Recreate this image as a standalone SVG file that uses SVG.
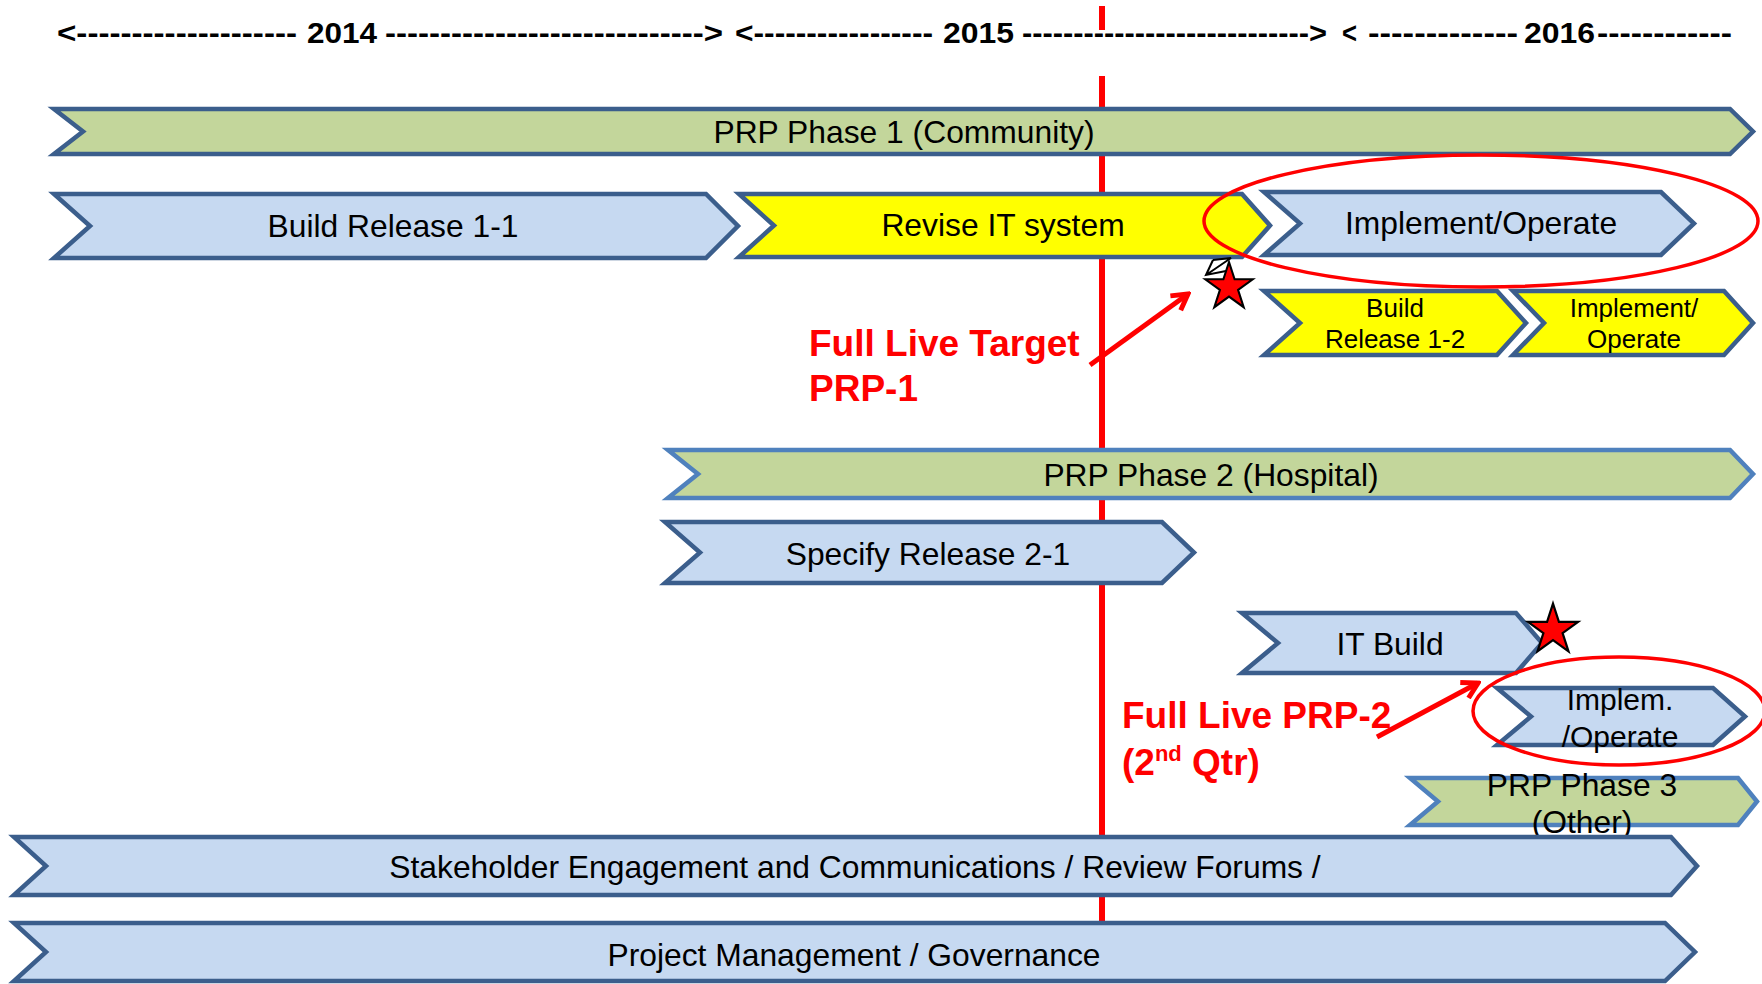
<svg xmlns="http://www.w3.org/2000/svg" width="1762" height="984" viewBox="0 0 1762 984">
<style>
.bar{stroke:#3B5E8C;stroke-width:4.5;stroke-linejoin:miter}
.bar2{stroke:#4F81BD;stroke-width:4.5;stroke-linejoin:miter}
.blue{fill:#C6D9F1}
.green{fill:#C3D69B}
.yellow{fill:#FFFF00}
.lbl{font-family:"Liberation Sans",Arial,sans-serif;font-size:31.8px;fill:#000;text-anchor:middle}
.sm{font-size:26px}
.hd{font-family:"Liberation Sans",Arial,sans-serif;font-size:29px;font-weight:bold;fill:#000}
.red{font-family:"Liberation Sans",Arial,sans-serif;font-size:37px;font-weight:bold;fill:#FF0000}
.ring{fill:none;stroke:#FF0000;stroke-width:3.5}
.star{fill:#FF0000;stroke:#000;stroke-width:2;stroke-linejoin:miter}
.arr{stroke:#FF0000;stroke-width:5;fill:none}
</style>
<defs>
<path id="starShape" d="M0,-24 L5.39,-7.42 L22.83,-7.42 L8.72,2.83 L14.11,19.42 L0,9.17 L-14.11,19.42 L-8.72,2.83 L-22.83,-7.42 L-5.39,-7.42 Z"/>
<marker id="vhead" viewBox="0 0 20 20" refX="17" refY="10" markerWidth="22" markerHeight="22" markerUnits="userSpaceOnUse" orient="auto">
<path d="M3,2 L17,10 L3,18" fill="none" stroke="#FF0000" stroke-width="4.5"/>
</marker>
</defs>
<rect x="0" y="0" width="1762" height="984" fill="#FFFFFF"/>

<g id="timeline-heading">
<text class="hd" x="57" y="43" textLength="240" lengthAdjust="spacingAndGlyphs">&lt;--------------------</text>
<text class="hd" x="307" y="43" textLength="70" lengthAdjust="spacingAndGlyphs">2014</text>
<text class="hd" x="385" y="43" textLength="338" lengthAdjust="spacingAndGlyphs">-----------------------------&gt;</text>
<text class="hd" x="735" y="43" textLength="198" lengthAdjust="spacingAndGlyphs">&lt;-----------------</text>
<text class="hd" x="943" y="43" textLength="71" lengthAdjust="spacingAndGlyphs">2015</text>
<text class="hd" x="1022" y="43" textLength="305" lengthAdjust="spacingAndGlyphs">----------------------------&gt;</text>
<text class="hd" x="1342" y="43" textLength="15" lengthAdjust="spacingAndGlyphs">&lt;</text>
<text class="hd" x="1368" y="43" textLength="150" lengthAdjust="spacingAndGlyphs">-------------</text>
<text class="hd" x="1524" y="43" textLength="71" lengthAdjust="spacingAndGlyphs">2016</text>
<text class="hd" x="1597" y="43" textLength="135" lengthAdjust="spacingAndGlyphs">------------</text>
</g>

<g id="today-line">
<line x1="1102" y1="6" x2="1102" y2="30" stroke="#FF0000" stroke-width="6"/>
<line x1="1102" y1="76" x2="1102" y2="930" stroke="#FF0000" stroke-width="6"/>
</g>

<g id="prp-phase-1">
<polygon class="bar green" points="54,109 1730,109 1753,131.5 1730,154 54,154 83,131.5"/>
<text class="lbl" x="904" y="143">PRP Phase 1 (Community)</text>
</g>
<g id="build-release-1-1">
<polygon class="bar blue" points="54,194 706,194 738,226 706,258 54,258 90,226"/>
<text class="lbl" x="393" y="237">Build Release 1-1</text>
</g>
<g id="revise-it-system">
<polygon class="bar yellow" points="739,194 1242,194 1270,225.5 1242,257 739,257 774,225.5"/>
<text class="lbl" x="1003" y="236">Revise IT system</text>
</g>
<g id="implement-operate-1">
<polygon class="bar blue" points="1264,192 1661,192 1694,223.5 1661,255 1264,255 1300,223.5"/>
<text class="lbl" x="1481" y="234">Implement/Operate</text>
</g>
<g id="build-release-1-2">
<polygon class="bar yellow" points="1264,291 1497,291 1526,323 1497,355 1264,355 1300,323"/>
<text class="lbl sm" x="1395" y="317">Build</text>
<text class="lbl sm" x="1395" y="348">Release 1-2</text>
</g>
<g id="implement-operate-2">
<polygon class="bar yellow" points="1513,291 1724,291 1753,323 1724,355 1513,355 1544,323"/>
<text class="lbl sm" x="1634" y="317">Implement/</text>
<text class="lbl sm" x="1634" y="348">Operate</text>
</g>
<g id="prp-phase-2">
<polygon class="bar2 green" points="668,450 1730,450 1753,474 1730,498 668,498 698,474"/>
<text class="lbl" x="1211" y="486">PRP Phase 2 (Hospital)</text>
</g>
<g id="specify-release-2-1">
<polygon class="bar blue" points="665,522 1162,522 1194,552.5 1162,583 665,583 700,552.5"/>
<text class="lbl" x="928" y="565">Specify Release 2-1</text>
</g>
<g id="it-build">
<polygon class="bar blue" points="1242,613 1516,613 1542,643 1516,673 1242,673 1278,643"/>
<text class="lbl" x="1390" y="655">IT Build</text>
</g>
<g id="implem-operate">
<polygon class="bar blue" points="1497,688 1713,688 1745,716.5 1713,745 1497,745 1531,716.5"/>
<text class="lbl" x="1620" y="710" style="font-size:30px">Implem.</text>
<text class="lbl" x="1620" y="747" style="font-size:30px">/Operate</text>
</g>
<g id="prp-phase-3">
<polygon class="bar2 green" points="1410,778 1738,778 1757,801.5 1738,825 1410,825 1438,801.5"/>
<text class="lbl" x="1582" y="796">PRP Phase 3</text>
<text class="lbl" x="1582" y="833">(Other)</text>
</g>
<g id="stakeholder-engagement">
<polygon class="bar blue" points="14,837 1671,837 1697,866 1671,895 14,895 46,866"/>
<text class="lbl" x="855" y="878">Stakeholder Engagement and Communications / Review Forums /</text>
</g>
<g id="project-management">
<polygon class="bar blue" points="14,923 1665,923 1695,952 1665,981 14,981 46,952"/>
<text class="lbl" x="854" y="966">Project Management / Governance</text>
</g>

<g id="highlight-ring-1">
<ellipse class="ring" cx="1481" cy="221" rx="277" ry="66"/>
</g>
<g id="highlight-ring-2">
<ellipse class="ring" cx="1619" cy="711" rx="146" ry="54"/>
</g>

<g id="milestone-star-1">
<use href="#starShape" class="star" transform="translate(1229,287) scale(1.04)"/>
</g>
<g id="milestone-star-2">
<use href="#starShape" class="star" transform="translate(1553,630) scale(1.1)"/>
</g>

<g id="full-live-target-prp-1">
<text class="red" x="809" y="356">Full Live Target</text>
<text class="red" x="809" y="401">PRP-1</text>
</g>
<g id="full-live-prp-2">
<text class="red" x="1122" y="728">Full Live PRP-2</text>
<text class="red" x="1122" y="775">(2<tspan font-size="22" dy="-14">nd</tspan><tspan dy="14"> Qtr)</tspan></text>
</g>

<g id="connectors">
<line class="arr" x1="1090" y1="365" x2="1188" y2="294" marker-end="url(#vhead)"/>
<line class="arr" x1="1377" y1="737" x2="1478" y2="683" marker-end="url(#vhead)"/>
<path d="M1213,260 L1206,275 L1226,271 M1206,275 L1231,258 L1213,260" fill="none" stroke="#000" stroke-width="2"/>
</g>
</svg>
